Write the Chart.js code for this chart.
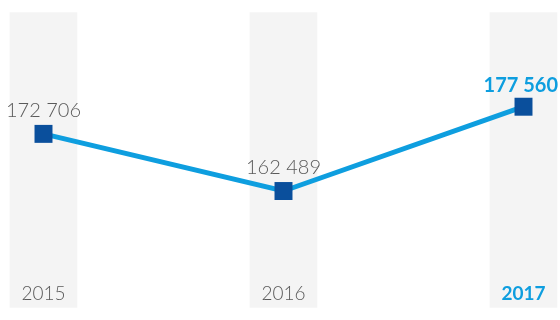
<!DOCTYPE html>
<html>
<head>
<meta charset="utf-8">
<script src="https://cdn.jsdelivr.net/npm/chart.js@4/dist/chart.umd.min.js"></script>
<style>
  html, body { margin: 0; padding: 0; background: #fff; }
  #wrap { width: 560px; height: 320px; }
</style>
</head>
<body>
<div id="wrap"><canvas id="chart"></canvas></div>
<script>
var years = ['2015', '2016', '2017'];
var values = [172706, 162489, 177560];
var valueLabels = ['172 706', '162 489', '177 560'];
var bands = [1, 1, 1];

var blue = '#0e9edf';
var navy = '#0a4f9c';
var grey = '#5a5a5a';

// value labels above the points and year labels at the foot of each band
var labelPlugin = {
    id: 'labels',
    afterDatasetsDraw: function (chart) {
        var ctx = chart.ctx;
        var meta = chart.getDatasetMeta(1);
        var x = chart.scales.x;
        var last = years.length - 1;
        ctx.save();
        ctx.textAlign = 'center';
        ctx.textBaseline = 'middle';
        meta.data.forEach(function (pt, i) {
            var cur = i === last;
            ctx.fillStyle = cur ? blue : grey;
            ctx.font = (cur ? 'bold ' : '300 ') + '20px Lato';
            var tx = pt.x;
            var w = ctx.measureText(valueLabels[i]).width;
            if (tx + w / 2 > chart.width - 2) tx = chart.width - 2 - w / 2;
            ctx.fillText(valueLabels[i], tx, pt.y - (cur ? 21 : 23));
        });
        years.forEach(function (y, i) {
            var cur = i === last;
            ctx.fillStyle = cur ? blue : grey;
            ctx.font = (cur ? 'bold ' : '300 ') + '19px Lato';
            ctx.fillText(y, x.getPixelForValue(i), chart.chartArea.bottom - 13);
        });
        ctx.restore();
    }
};

new Chart('chart', {
    data: {
        labels: years,
        datasets: [{
            type: 'bar',
            data: bands,
            yAxisID: 'y2',
            backgroundColor: '#f4f4f4',
            barThickness: 67,
            clip: false,
            order: 1
        }, {
            type: 'line',
            data: values,
            borderColor: blue,
            borderWidth: 5,
            pointStyle: 'rect',
            pointRadius: 12.7,
            pointBackgroundColor: navy,
            pointBorderWidth: 0,
            tension: 0,
            clip: false,
            order: 0
        }]
    },
    options: {
        responsive: true,
        maintainAspectRatio: false,
        animation: false,
        layout: { padding: { left: 43.5, right: 36.5, top: 11, bottom: 10 } },
        plugins: { legend: { display: false }, tooltip: { enabled: false } },
        scales: {
            x: { type: 'category', offset: false, display: false },
            y: { display: false, min: 141700, max: 194370 },
            y2: { display: false, min: 0, max: 1 }
        }
    },
    plugins: [labelPlugin]
});
</script>
</body>
</html>
